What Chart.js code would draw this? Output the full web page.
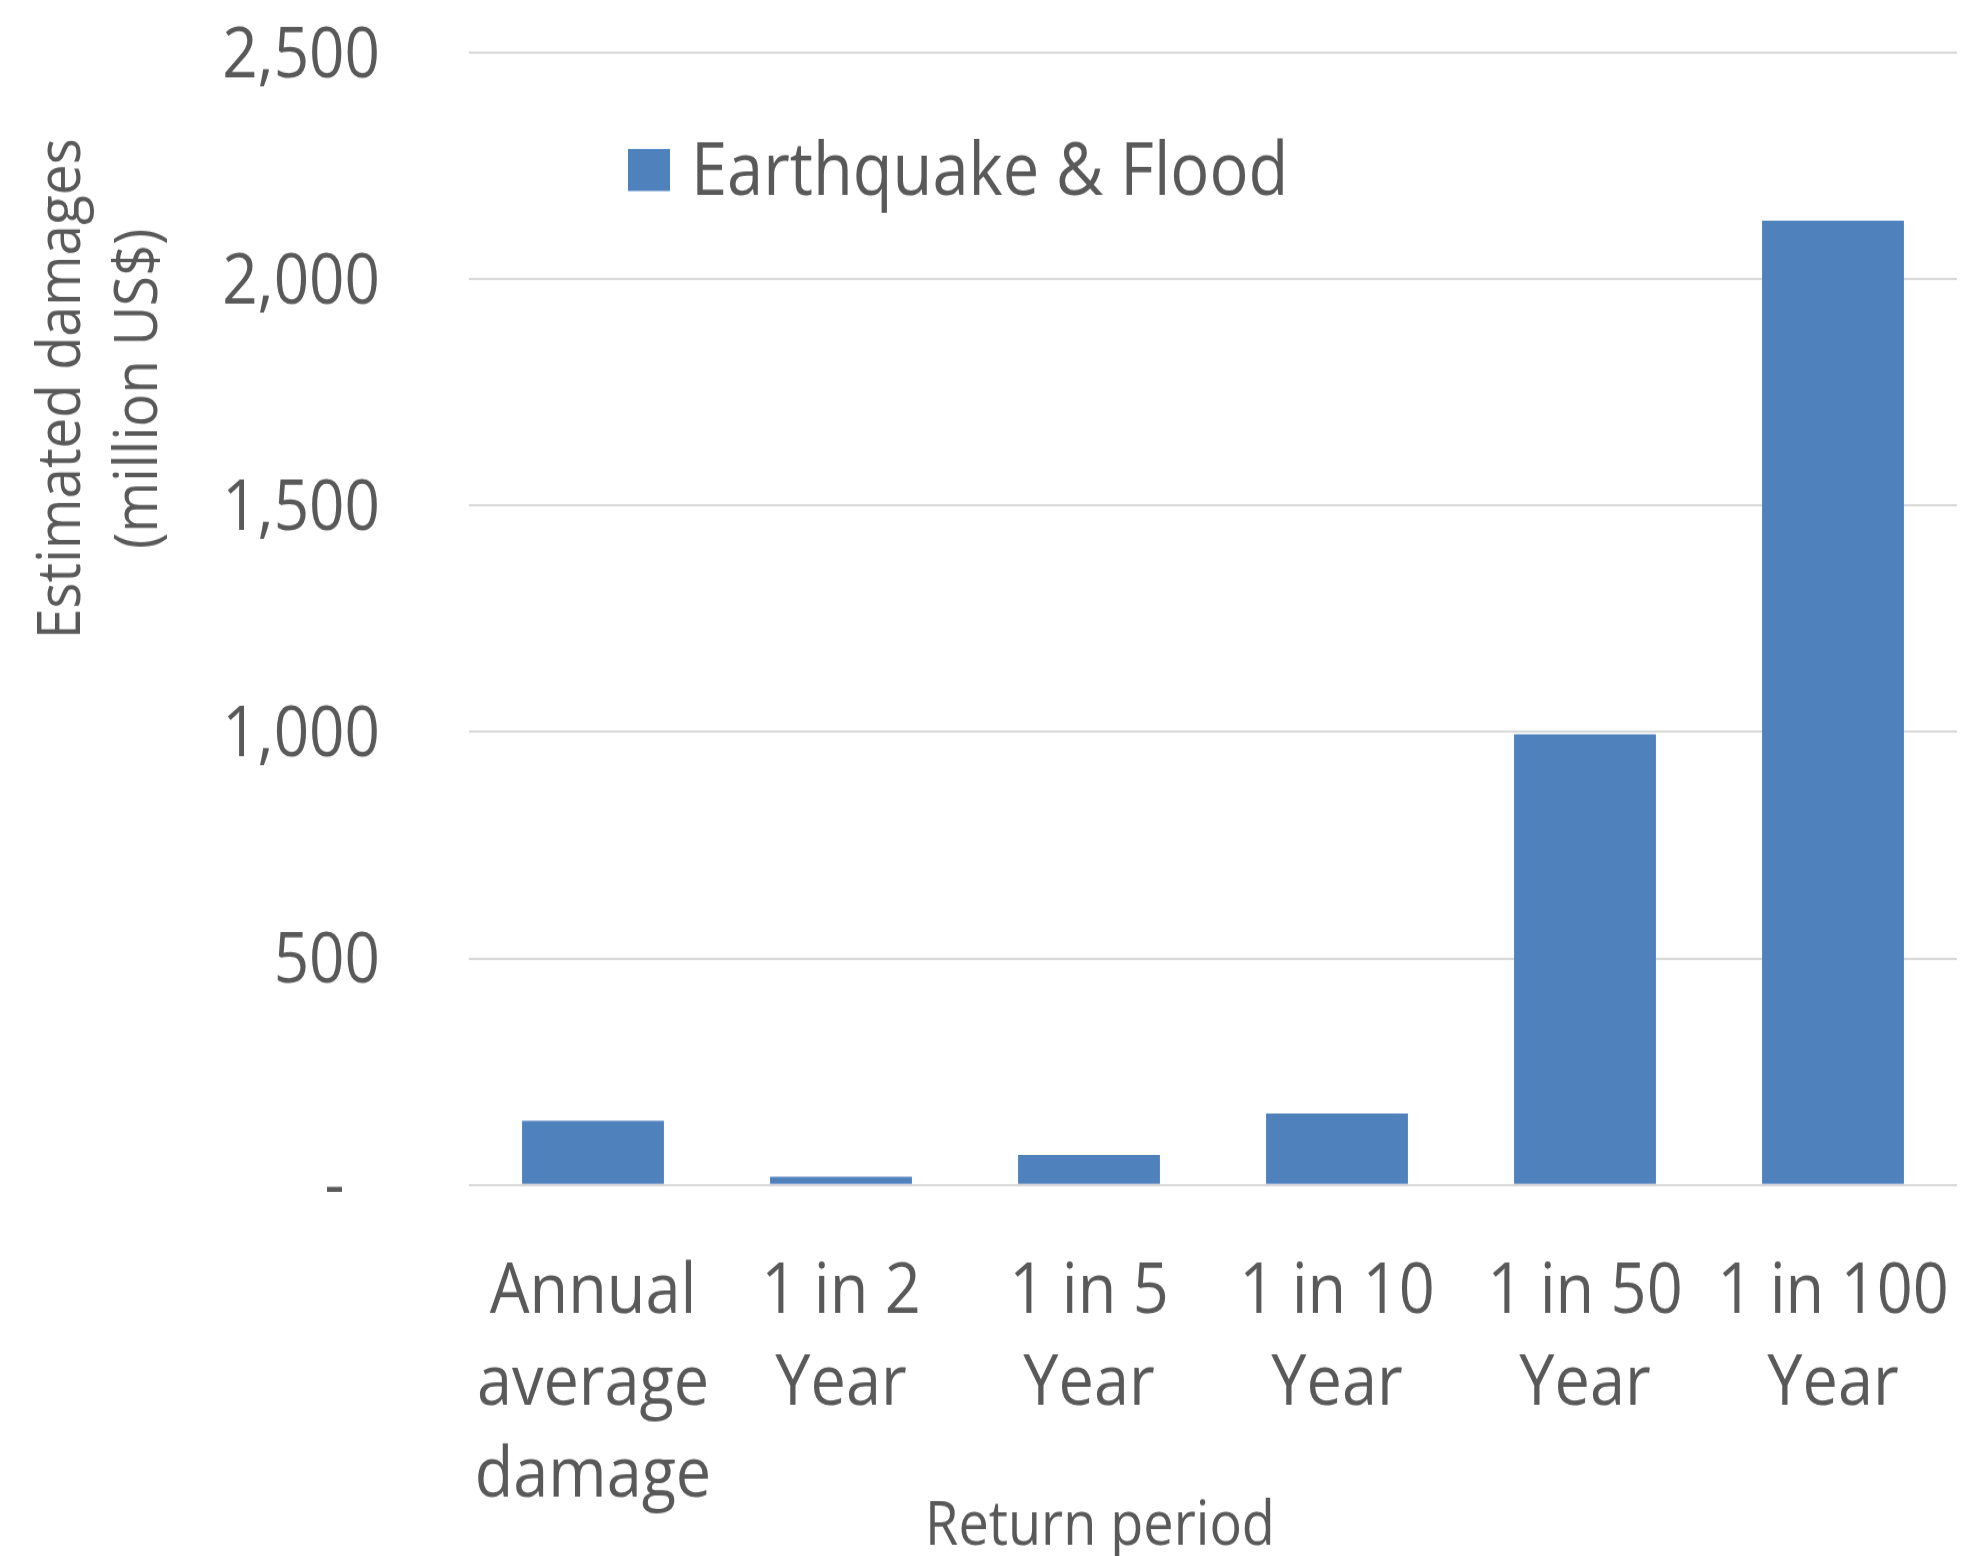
<!DOCTYPE html>
<html>
<head>
<meta charset="utf-8">
<script src="https://cdn.jsdelivr.net/npm/chart.js@4/dist/chart.umd.min.js"></script>
<style>
  html { overflow: hidden; }
  html, body { margin: 0; padding: 0; background: #ffffff; }
  body { width: 1963px; height: 1556px; }
  #wrap { width: 1963px; height: 1389px; transform: scaleY(1.1202); transform-origin: 0 0; }
  canvas { display: block; }
</style>
</head>
<body>
<div id="wrap"><canvas id="chart" width="1963" height="1389"></canvas></div>
<script>
// Return periods shown on the category axis (one array per multi-line label)
const categories = [
  ['Annual', 'average', 'damage'],
  ['1 in 2', 'Year'],
  ['1 in 5', 'Year'],
  ['1 in 10', 'Year'],
  ['1 in 50', 'Year'],
  ['1 in 100', 'Year']
];

// Estimated damages, million US$
const seriesLabel = 'Earthquake & Flood';
const damages = [142, 18, 66, 158, 995, 2129];

// Value axis
const yMin = 0;
const yMax = 2500;
const yStep = 500;

const yTitleLines = ['Estimated damages', '(million US$)'];
const xTitle = 'Return period';

const TEXT = '#595959';
const BAR = '#4f81bd';
const FONT = "'Open Sans', 'Noto Sans', sans-serif";
const CLEAR = 'rgba(0,0,0,0)';

// Legend and axis titles drawn in fixed spots around the plot
const annotations = {
  id: 'annotations',
  afterDraw(chart) {
    const ctx = chart.ctx;
    const ds = chart.data.datasets[0];
    ctx.save();

    // legend
    ctx.fillStyle = ds.backgroundColor;
    ctx.fillRect(628, 133, 42, 37.5);
    ctx.fillStyle = TEXT;
    ctx.font = '65px ' + FONT;
    ctx.textAlign = 'left';
    ctx.textBaseline = 'middle';
    ctx.fillText(ds.label, 691, 155);

    // x-axis title
    ctx.font = '54px ' + FONT;
    ctx.textAlign = 'center';
    ctx.fillText(xTitle, 1100, 1364);

    // y-axis title, two rotated lines
    ctx.font = '60px ' + FONT;
    ctx.textBaseline = 'alphabetic';
    const baselines = [80, 157];
    yTitleLines.forEach((line, i) => {
      ctx.save();
      ctx.translate(baselines[i], 347);
      ctx.rotate(-Math.PI / 2);
      ctx.scale(0.815, 1);
      ctx.fillText(line, 0, 0);
      ctx.restore();
    });

    ctx.restore();
  }
};

new Chart(document.getElementById('chart'), {
  type: 'bar',
  data: {
    labels: categories,
    datasets: [{
      label: seriesLabel,
      data: damages,
      backgroundColor: BAR,
      borderWidth: 0,
      barPercentage: 0.572,
      categoryPercentage: 1.0
    }]
  },
  options: {
    responsive: false,
    animation: false,
    devicePixelRatio: 1,
    layout: { padding: { top: 47, right: 6, left: 0, bottom: 0 } },
    plugins: {
      legend: { display: false },
      tooltip: { enabled: false }
    },
    scales: {
      x: {
        grid: { display: true, drawOnChartArea: false, drawTicks: true, tickLength: 55, tickColor: CLEAR },
        border: { display: false },
        ticks: {
          color: TEXT,
          font: { family: FONT, size: 63, lineHeight: 1.3 },
          padding: 0,
          maxRotation: 0,
          minRotation: 0,
          autoSkip: false
        },
        afterFit(scale) { scale.height = 331.2; }
      },
      y: {
        min: yMin,
        max: yMax,
        grid: { color: '#d9d9d9', lineWidth: 2, drawTicks: true, tickLength: 89, tickColor: CLEAR },
        border: { display: false },
        ticks: {
          stepSize: yStep,
          color: TEXT,
          font: { family: FONT, size: 62 },
          padding: 0,
          labelOffset: 4,
          callback: (v) => v === 0 ? '-\u2007' : v.toLocaleString('en-US')
        },
        afterFit(scale) { scale.width = 469; }
      }
    }
  },
  plugins: [annotations]
});
</script>
</body>
</html>
